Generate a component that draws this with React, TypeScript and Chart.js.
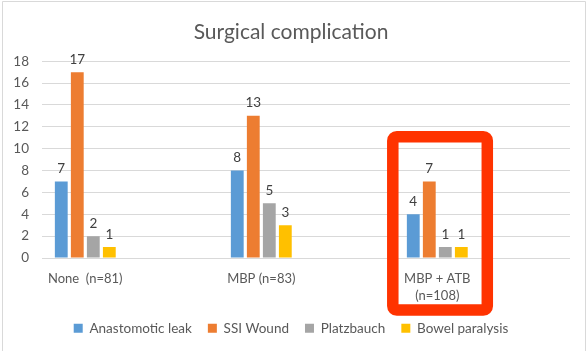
import React, { useEffect, useRef } from "react";
import { Chart, registerables } from "chart.js";

Chart.register(...registerables);

const categories: (string | string[])[] = ["None  (n=81)", "MBP (n=83)", ["MBP + ATB", "(n=108)"]];
const categoryPositions = [0, 1, 2];
const anastomoticLeak = [7, 8, 4];
const ssiWound = [17, 13, 7];
const platzbauch = [2, 5, 1];
const bowelParalysis = [1, 3, 1];
const seriesNames = ["Anastomotic leak", "SSI Wound", "Platzbauch", "Bowel paralysis"];
const seriesColors = ["#5B9BD5", "#ED7D31", "#A5A5A5", "#FFC000"];
const yTicks = [0, 2, 4, 6, 8, 10, 12, 14, 16, 18];
const highlightedCategory = 2;

const FONT = "Lato, 'Noto Sans', sans-serif";

const toPoints = (vals: number[]) => vals.map((v, i) => ({ x: categoryPositions[i], y: v }));

const dataLabelPlugin = {
  id: "dataLabels",
  afterDatasetsDraw(chart: any) {
    const ctx = chart.ctx;
    ctx.save();
    ctx.font = `13.5px ${FONT}`;
    ctx.fillStyle = "#404040";
    ctx.textAlign = "center";
    ctx.textBaseline = "bottom";
    chart.data.datasets.forEach((ds: any, di: number) => {
      const meta = chart.getDatasetMeta(di);
      meta.data.forEach((bar: any, i: number) => {
        ctx.fillText(String(ds.data[i].y), bar.x, bar.y - 6);
      });
    });
    ctx.restore();
  },
};

const frameAndHighlightPlugin = {
  id: "frameHighlight",
  beforeDraw(chart: any) {
    const ctx = chart.ctx;
    ctx.save();
    ctx.fillStyle = "#ffffff";
    ctx.fillRect(0, 0, chart.width, chart.height);
    ctx.strokeStyle = "#D9D9D9";
    ctx.lineWidth = 1;
    ctx.beginPath();
    ctx.moveTo(2.5, chart.height);
    ctx.lineTo(2.5, 1.5);
    ctx.lineTo(chart.width - 1.5, 1.5);
    ctx.lineTo(chart.width - 1.5, chart.height);
    ctx.stroke();
    ctx.restore();
  },
  afterDraw(chart: any) {
    const ctx = chart.ctx;
    const xs = chart.scales.x;
    const ys = chart.scales.y;
    const cx = xs.getPixelForValue(categoryPositions[highlightedCategory]);
    const left = cx - 44.5;
    const right = cx + 50;
    const top = ys.getPixelForValue(11.1);
    const bottom = ys.bottom + 52;
    const r = 4;
    ctx.save();
    ctx.strokeStyle = "#FF3300";
    ctx.lineWidth = 11.5;
    ctx.beginPath();
    ctx.moveTo(left + r, top);
    ctx.lineTo(right - r, top);
    ctx.arcTo(right, top, right, top + r, r);
    ctx.lineTo(right, bottom - r);
    ctx.arcTo(right, bottom, right - r, bottom, r);
    ctx.lineTo(left + r, bottom);
    ctx.arcTo(left, bottom, left, bottom - r, r);
    ctx.lineTo(left, top + r);
    ctx.arcTo(left, top, left + r, top, r);
    ctx.closePath();
    ctx.stroke();
    ctx.restore();
  },
};

export default function App() {
  const ref = useRef<HTMLCanvasElement | null>(null);
  useEffect(() => {
    document.body.style.margin = "0";
    if (!ref.current) return;
    const series = [anastomoticLeak, ssiWound, platzbauch, bowelParalysis];
    const chart = new Chart(ref.current, {
      type: "bar",
      data: {
        datasets: series.map((vals, i) => ({
          label: seriesNames[i],
          data: toPoints(vals),
          backgroundColor: seriesColors[i],
          borderWidth: 0,
          categoryPercentage: 0.364,
          barPercentage: 0.8,
        })),
      },
      options: {
        responsive: false,
        animation: false,
        layout: { padding: { left: 12, right: 17, top: 20, bottom: 6 } },
        plugins: {
          title: {
            display: true,
            text: "Surgical complication",
            color: "#595959",
            font: { family: FONT, size: 21, weight: "normal" },
            padding: { top: 0, bottom: 16 },
          },
          legend: {
            position: "bottom",
            labels: {
              color: "#595959",
              font: { family: FONT, size: 13.5 },
              boxWidth: 9,
              boxHeight: 9,
              padding: 16,
            },
          },
          tooltip: { enabled: false },
        },
        scales: {
          x: {
            type: "linear",
            offset: false,
            min: -0.246,
            max: 2.754,
            afterBuildTicks: (axis: any) => {
              axis.ticks = categoryPositions.map((v) => ({ value: v }));
            },
            afterFit: (axis: any) => {
              axis.height = 47.5;
            },
            grid: { display: false, offset: false },
            border: { display: false },
            ticks: {
              color: "#595959",
              font: { family: FONT, size: 13, lineHeight: 1.3 },
              padding: 4,
              maxRotation: 0,
              autoSkip: false,
              callback: (value: any) => {
                const idx = categoryPositions.indexOf(Number(value));
                return idx >= 0 ? categories[idx] : "";
              },
            },
          },
          y: {
            min: 0,
            max: 18,
            afterBuildTicks: (axis: any) => {
              axis.ticks = yTicks.map((v) => ({ value: v }));
            },
            afterFit: (axis: any) => {
              axis.width = 30;
            },
            grid: { color: "#D9D9D9", lineWidth: 1, drawTicks: false },
            border: { display: false },
            ticks: {
              color: "#595959",
              font: { family: FONT, size: 13.5 },
              padding: 13,
            },
          },
        },
      },
      plugins: [dataLabelPlugin, frameAndHighlightPlugin],
    } as any);
    return () => chart.destroy();
  }, []);
  return (
    <div style={{ width: 587, height: 351 }}>
      <canvas ref={ref} width={587} height={351} />
    </div>
  );
}
